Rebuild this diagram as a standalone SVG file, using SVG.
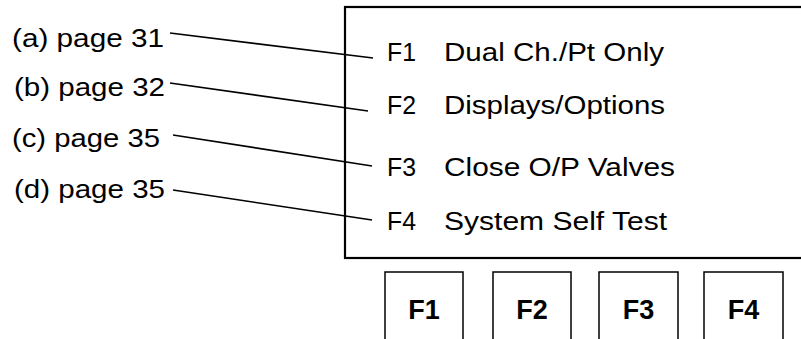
<svg xmlns="http://www.w3.org/2000/svg" width="801" height="339" viewBox="0 0 801 339">
<style>
  .lbl { font-family: "Liberation Sans", Arial, sans-serif; font-size: 26px; fill: #000; }
  .key { font-family: "Liberation Sans", Arial, sans-serif; font-size: 27px; font-weight: bold; fill: #000; text-anchor: middle; }
  .box { fill: none; stroke: #000; stroke-width: 2.2; }
  .btn { fill: none; stroke: #000; stroke-width: 1.5; }
  .con { stroke: #000; stroke-width: 1.6; fill: none; }
</style>
<rect width="801" height="339" fill="#fff"/>
<g id="display">
  <rect class="box" x="345" y="7" width="470" height="251"/>
  <text class="lbl" x="387" y="61" textLength="29" lengthAdjust="spacingAndGlyphs">F1</text>
  <text class="lbl" x="444" y="61" textLength="220" lengthAdjust="spacingAndGlyphs">Dual Ch./Pt Only</text>
  <text class="lbl" x="387" y="114" textLength="29" lengthAdjust="spacingAndGlyphs">F2</text>
  <text class="lbl" x="444" y="114" textLength="221" lengthAdjust="spacingAndGlyphs">Displays/Options</text>
  <text class="lbl" x="387" y="176" textLength="29" lengthAdjust="spacingAndGlyphs">F3</text>
  <text class="lbl" x="444" y="176" textLength="231" lengthAdjust="spacingAndGlyphs">Close O/P Valves</text>
  <text class="lbl" x="387" y="230" textLength="29" lengthAdjust="spacingAndGlyphs">F4</text>
  <text class="lbl" x="444" y="230" textLength="223" lengthAdjust="spacingAndGlyphs">System Self Test</text>
</g>
<g id="label-a"><text class="lbl" x="12" y="47" textLength="152" lengthAdjust="spacingAndGlyphs">(a) page 31</text></g>
<g id="label-b"><text class="lbl" x="14" y="96" textLength="151" lengthAdjust="spacingAndGlyphs">(b) page 32</text></g>
<g id="label-c"><text class="lbl" x="12" y="147" textLength="148" lengthAdjust="spacingAndGlyphs">(c) page 35</text></g>
<g id="label-d"><text class="lbl" x="14" y="198" textLength="151" lengthAdjust="spacingAndGlyphs">(d) page 35</text></g>
<g id="key-f1"><rect class="btn" x="385" y="272" width="78" height="80"/><text class="key" x="424" y="319">F1</text></g>
<g id="key-f2"><rect class="btn" x="493" y="272" width="78" height="80"/><text class="key" x="532" y="319">F2</text></g>
<g id="key-f3"><rect class="btn" x="599" y="272" width="79" height="80"/><text class="key" x="638.5" y="319">F3</text></g>
<g id="key-f4"><rect class="btn" x="704" y="272" width="79" height="80"/><text class="key" x="743.5" y="319">F4</text></g>
<g id="connectors">
  <line class="con" x1="170" y1="33" x2="373" y2="58"/>
  <line class="con" x1="170" y1="83" x2="368" y2="111"/>
  <line class="con" x1="173" y1="135" x2="372" y2="166"/>
  <line class="con" x1="173" y1="190" x2="372" y2="220"/>
</g>
</svg>
